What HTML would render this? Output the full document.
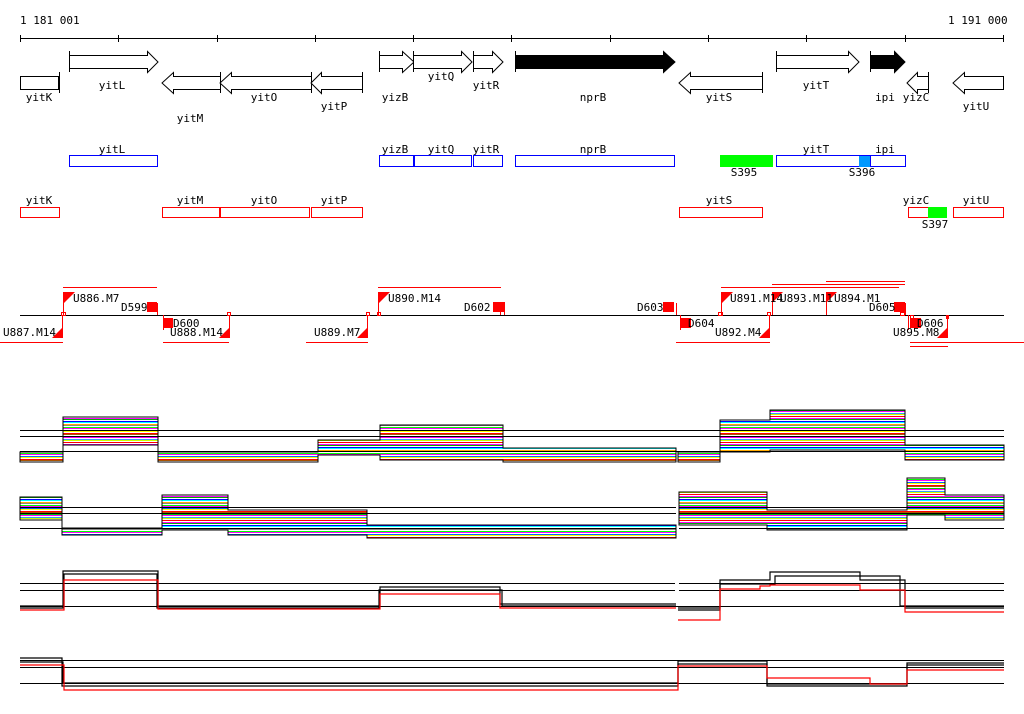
<!DOCTYPE html>
<html><head><meta charset="utf-8"><style>
html,body{margin:0;padding:0;background:#fff;}
svg{display:block;}
text{font-family:"DejaVu Sans Mono","Liberation Mono",monospace;font-size:11px;fill:#000;}
</style></head><body>
<svg width="1024" height="714" viewBox="0 0 1024 714" xmlns="http://www.w3.org/2000/svg">
<defs>
<pattern id="st" width="20" height="26" patternUnits="userSpaceOnUse">
<rect width="20" height="26" fill="#fff"/>
<rect y="0" width="20" height="1" fill="#f00"/><rect y="2" width="20" height="1" fill="#f0f"/>
<rect y="3" width="20" height="1" fill="#0a0"/><rect y="5" width="20" height="1" fill="#00f"/>
<rect y="6" width="20" height="1" fill="#0ff"/><rect y="8" width="20" height="1" fill="#fa0"/>
<rect y="9" width="20" height="1" fill="#888"/><rect y="11" width="20" height="1" fill="#0f0"/>
<rect y="12" width="20" height="1" fill="#f0f"/><rect y="14" width="20" height="1" fill="#06f"/>
<rect y="15" width="20" height="1" fill="#ff0"/><rect y="17" width="20" height="1" fill="#f00"/>
<rect y="18" width="20" height="1" fill="#a50"/><rect y="20" width="20" height="1" fill="#0c0"/>
<rect y="21" width="20" height="1" fill="#f0f"/><rect y="23" width="20" height="1" fill="#39f"/>
<rect y="24" width="20" height="1" fill="#cf0"/>
</pattern>
</defs>
<!-- scale -->
<text x="20" y="24">1 181 001</text><text x="948" y="24">1 191 000</text>
<g stroke="#000" stroke-width="1">
<line x1="20" y1="38.5" x2="1004" y2="38.5"/>
<line x1="20.5" y1="35" x2="20.5" y2="42"/><line x1="118.5" y1="35" x2="118.5" y2="42"/>
<line x1="217.5" y1="35" x2="217.5" y2="42"/><line x1="315.5" y1="35" x2="315.5" y2="42"/>
<line x1="413.5" y1="35" x2="413.5" y2="42"/><line x1="511.5" y1="35" x2="511.5" y2="42"/>
<line x1="610.5" y1="35" x2="610.5" y2="42"/><line x1="708.5" y1="35" x2="708.5" y2="42"/>
<line x1="806.5" y1="35" x2="806.5" y2="42"/><line x1="905.5" y1="35" x2="905.5" y2="42"/>
<line x1="1003.5" y1="35" x2="1003.5" y2="42"/>
</g>
<!-- genes -->
<g stroke="#000" fill="#fff">
<rect x="20.5" y="76.5" width="38" height="13"/><line x1="59.5" y1="72" x2="59.5" y2="93"/>
<path d="M69.5 51V72M69.5 55.5H147.5V51.5L158 62L147.5 72.5V68.5H69.5Z"/>
<path d="M379.5 51V72M379.5 55.5H402.5V51.5L414 62L402.5 72.5V68.5H379.5Z"/>
<path d="M413.5 51V72M413.5 55.5H461.5V51.5L472 62L461.5 72.5V68.5H413.5Z"/>
<path d="M473.5 51V72M473.5 55.5H492.5V51.5L503 62L492.5 72.5V68.5H473.5Z"/>
<path d="M776.5 51V72M776.5 55.5H848.5V51.5L859 62L848.5 72.5V68.5H776.5Z"/>
<path d="M515.5 51V72M515.5 55.5H663.5V51.5L675 62L663.5 72.5V68.5H515.5Z" fill="#000"/>
<path d="M870.5 51V72M870.5 55.5H894.5V51.5L905 62L894.5 72.5V68.5H870.5Z" fill="#000"/>
<path d="M220.5 72V93M220.5 76.5H173.5V72.5L162 83L173.5 93.5V89.5H220.5Z"/>
<path d="M311.5 72V93M311.5 76.5H231.5V72.5L220 83L231.5 93.5V89.5H311.5Z"/>
<path d="M362.5 72V93M362.5 76.5H321.5V72.5L311 83L321.5 93.5V89.5H362.5Z"/>
<path d="M762.5 72V93M762.5 76.5H690.5V72.5L679 83L690.5 93.5V89.5H762.5Z"/>
<path d="M928.5 72V93M928.5 76.5H917.5V72.5L907 83L917.5 93.5V89.5H928.5Z"/>
<path d="M1003.5 76.5H964.5V72.5L953 83L964.5 93.5V89.5H1003.5Z"/>
</g>
<g text-anchor="middle">
<text x="39" y="101">yitK</text><text x="112" y="89">yitL</text><text x="190" y="122">yitM</text>
<text x="264" y="101">yitO</text><text x="334" y="110">yitP</text><text x="395" y="101">yizB</text>
<text x="441" y="80">yitQ</text><text x="486" y="89">yitR</text><text x="593" y="101">nprB</text>
<text x="719" y="101">yitS</text><text x="816" y="89">yitT</text><text x="885" y="101">ipi</text>
<text x="916" y="101">yizC</text><text x="976" y="110">yitU</text>
<!-- row 2 labels -->
<text x="112" y="153">yitL</text><text x="395" y="153">yizB</text><text x="441" y="153">yitQ</text>
<text x="486" y="153">yitR</text><text x="593" y="153">nprB</text><text x="816" y="153">yitT</text>
<text x="885" y="153">ipi</text><text x="744" y="176">S395</text><text x="862" y="176">S396</text>
<!-- row 3 labels -->
<text x="39" y="204">yitK</text><text x="190" y="204">yitM</text><text x="264" y="204">yitO</text>
<text x="334" y="204">yitP</text><text x="719" y="204">yitS</text><text x="916" y="204">yizC</text>
<text x="976" y="204">yitU</text><text x="935" y="228">S397</text>
</g>
<g fill="none" stroke="#00f">
<rect x="69.5" y="155.5" width="88" height="11"/><rect x="379.5" y="155.5" width="34" height="11"/>
<rect x="414.5" y="155.5" width="57" height="11"/><rect x="473.5" y="155.5" width="29" height="11"/>
<rect x="515.5" y="155.5" width="159" height="11"/><rect x="776.5" y="155.5" width="129" height="11"/>
</g>
<rect x="720" y="155" width="53" height="12" fill="#0f0"/>
<rect x="859" y="156" width="11" height="11" fill="#09f"/><line x1="870.5" y1="155" x2="870.5" y2="167" stroke="#00f"/>
<g fill="none" stroke="#f00">
<rect x="20.5" y="207.5" width="39" height="10"/><rect x="162.5" y="207.5" width="57" height="10"/>
<rect x="220.5" y="207.5" width="89" height="10"/><rect x="311.5" y="207.5" width="51" height="10"/>
<rect x="679.5" y="207.5" width="83" height="10"/><rect x="908.5" y="207.5" width="38" height="10"/>
<rect x="953.5" y="207.5" width="50" height="10"/>
</g>
<rect x="928" y="207" width="19" height="11" fill="#0f0"/>
<!-- row 4 transcription units -->
<line x1="20" y1="315.5" x2="1004" y2="315.5" stroke="#000"/>
<g stroke="#f00" fill="none">
<line x1="63" y1="287.5" x2="157" y2="287.5"/><line x1="0" y1="342.5" x2="63" y2="342.5"/>
<line x1="163" y1="342.5" x2="229" y2="342.5"/><line x1="306" y1="342.5" x2="368" y2="342.5"/>
<line x1="378" y1="287.5" x2="501" y2="287.5"/><line x1="217" y1="287.5" x2="217" y2="287.5"/>
<line x1="676" y1="342.5" x2="770" y2="342.5"/><line x1="721" y1="287.5" x2="899" y2="287.5"/>
<line x1="772" y1="284.5" x2="905" y2="284.5"/><line x1="826" y1="281.5" x2="905" y2="281.5"/>
<line x1="910" y1="342.5" x2="1024" y2="342.5"/><line x1="910" y1="346.5" x2="948" y2="346.5"/>
<path d="M63.5 292V315M157.5 303V315M62.5 315V338M163.5 315V330M229.5 315V338M367.5 315V338M378.5 292V315M500.5 303V315M504.5 303V315M676.5 303V315M680.5 315V330M721.5 292V315M769.5 315V338M772.5 292V315M826.5 292V315M905.5 303V315M908.5 315V330M947.5 315V338"/>
<rect x="61.5" y="312.5" width="4" height="3"/><rect x="227.5" y="312.5" width="3" height="3"/>
<rect x="366.5" y="312.5" width="3" height="3"/><rect x="377.5" y="312.5" width="3" height="3"/>
<rect x="718.5" y="312.5" width="4" height="3"/><rect x="767.5" y="312.5" width="3" height="3"/>
<rect x="900.5" y="312.5" width="4" height="3"/><rect x="910.5" y="315.5" width="3" height="3"/>
</g>
<g fill="#f00">
<path d="M64 292H75L64 303Z"/><path d="M379 292H390L379 303Z"/><path d="M722 292H733L722 303Z"/>
<path d="M773 292H783L773 302Z"/><path d="M827 292H837L827 302Z"/>
<path d="M62 338H52L62 328Z"/><path d="M229 338H219L229 328Z"/><path d="M367 338H357L367 328Z"/>
<path d="M769 338H759L769 328Z"/><path d="M947 338H937L947 328Z"/>
<rect x="147" y="302" width="10" height="10"/><rect x="163" y="318" width="10" height="10"/>
<rect x="493" y="302" width="12" height="10"/><rect x="663" y="302" width="11" height="10"/>
<rect x="680" y="318" width="11" height="10"/><rect x="894" y="302" width="11" height="10"/>
<rect x="910" y="318" width="11" height="10"/><rect x="946" y="315" width="3" height="4"/>
</g>
<text x="73" y="302">U886.M7</text><text x="121" y="311">D599</text><text x="3" y="336">U887.M14</text>
<text x="173" y="327">D600</text><text x="170" y="336">U888.M14</text><text x="314" y="336">U889.M7</text>
<text x="388" y="302">U890.M14</text><text x="464" y="311">D602</text><text x="637" y="311">D603</text>
<text x="688" y="327">D604</text><text x="730" y="302">U891.M14</text><text x="715" y="336">U892.M4</text>
<text x="780" y="302">U893.M11</text><text x="834" y="302">U894.M1</text><text x="869" y="311">D605</text>
<text x="917" y="327">D606</text><text x="893" y="336">U895.M8</text>
<!-- track 1 -->
<g fill="url(#st)" stroke="#000" stroke-width="1">
<path d="M20 452H63V417H158V452H318V440H380V425H503V448H676V462H503V460H380V455H318V462H158V445H63V462H20Z"/>
<path d="M678 452H720V420H770V410H905V445H1004V460H905V450H770V452H720V462H678Z"/>
<path d="M20 497H62V528H162V495H228V510H367V525H676V538H367V535H228V530H162V535H62V520H20Z"/>
<path d="M679 492H767V510H907V478H945V495H1004V520H945V515H907V530H767V525H679Z"/>
</g>
<g stroke="#000">
<line x1="20" y1="430.5" x2="1004" y2="430.5"/><line x1="20" y1="436.5" x2="1004" y2="436.5"/><line x1="20" y1="451.5" x2="1004" y2="451.5"/>
<line x1="20" y1="507.5" x2="676" y2="507.5"/><line x1="20" y1="513.5" x2="676" y2="513.5"/><line x1="20" y1="528.5" x2="676" y2="528.5"/>
<line x1="679" y1="507.5" x2="1004" y2="507.5"/><line x1="679" y1="513.5" x2="1004" y2="513.5"/><line x1="679" y1="528.5" x2="1004" y2="528.5"/>
<line x1="20" y1="583.5" x2="675" y2="583.5"/><line x1="20" y1="590.5" x2="675" y2="590.5"/><line x1="20" y1="606.5" x2="1004" y2="606.5"/>
<line x1="679" y1="583.5" x2="1004" y2="583.5"/><line x1="679" y1="590.5" x2="1004" y2="590.5"/>
<line x1="20" y1="660.5" x2="1004" y2="660.5"/><line x1="20" y1="667.5" x2="1004" y2="667.5"/><line x1="20" y1="683.5" x2="1004" y2="683.5"/>
</g>
<!-- track 3 -->
<g fill="none" stroke-width="1.2">
<path stroke="#000" d="M20 608H63V571H158V606H380V587H500V604H676M678 610H720V580H770V572H860V580H905V608H1004"/>
<path stroke="#000" d="M20 606H64V574H157V608H379V590H502V606H676M678 608H720V584H775V576H900V606H1004"/>
<path stroke="#f00" d="M20 610H64V580H158V609H380V594H500V608H676M678 620H720V589H760V586H770V585H860V590H905V612H1004"/>
<path stroke="#000" d="M20 658H62V686H678V661H767V684H907V665H1004"/>
<path stroke="#000" d="M20 662H63V683H678V664H767V686H907V663H1004"/>
<path stroke="#f00" d="M20 665H64V690H678V666H767V678H870V684H907V670H1004"/>
</g>
</svg>
</body></html>
